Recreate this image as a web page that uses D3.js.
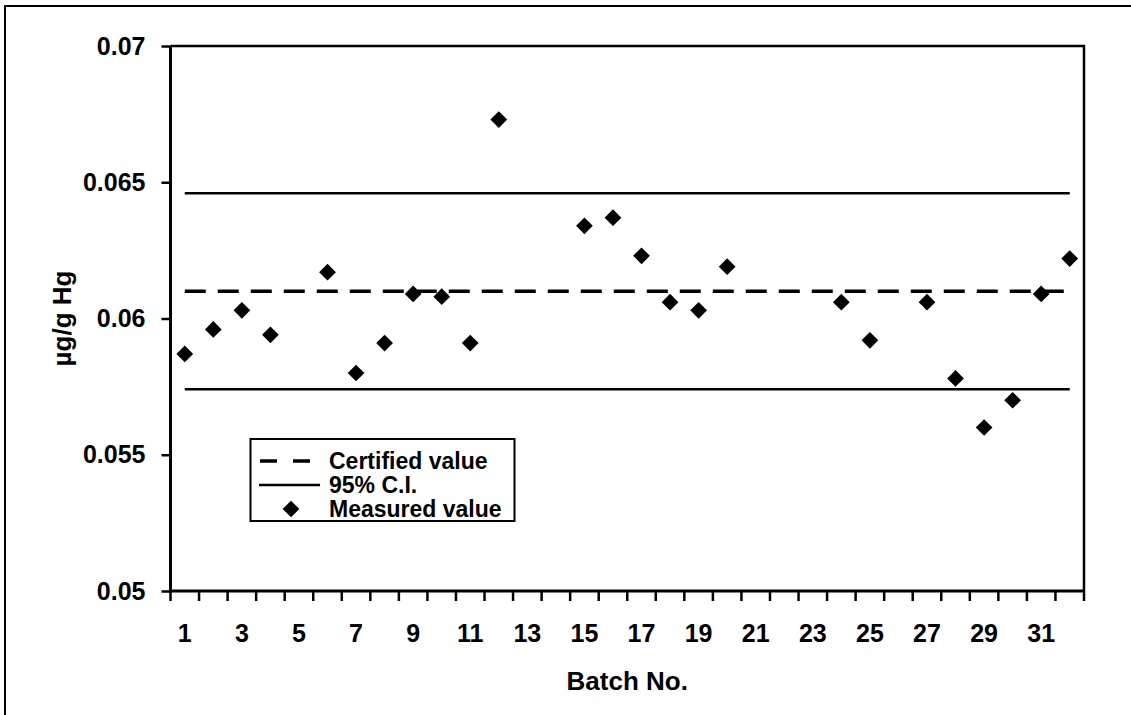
<!DOCTYPE html>
<html>
<head>
<meta charset="utf-8">
<script src="https://cdn.jsdelivr.net/npm/d3@7"></script>
<style>
  body { margin: 0; background: #fff; }
  svg text { font-family: "Liberation Sans", Arial, sans-serif; font-weight: bold; fill: #000; }
</style>
</head>
<body>
<div id="chart"></div>
<script>
// batches with a measurement (5, 13, 14, 21-23, 26 missing)
let batches = [1, 2, 3, 4, 6, 7, 8, 9, 10, 11, 12, 15, 16, 17, 18, 19, 20, 24, 25, 27, 28, 29, 30, 31, 32]
let measured = [0.0587, 0.0596, 0.0603, 0.0594, 0.0617, 0.0580, 0.0591, 0.0609, 0.0608, 0.0591, 0.0673,
  0.0634, 0.0637, 0.0623, 0.0606, 0.0603, 0.0619, 0.0606, 0.0592, 0.0606, 0.0578, 0.0560, 0.0570, 0.0609, 0.0622]
let allBatches = d3.range(1, 33)
let certified = 0.061
let ciLimits = [0.0574, 0.0646]
let yTicks = [0.05, 0.055, 0.06, 0.065, 0.07]
let xLabels = [1, 3, 5, 7, 9, 11, 13, 15, 17, 19, 21, 23, 25, 27, 29, 31]

let width = 1131
let height = 715
let margin = { top: 46, right: 47, bottom: 124, left: 170.5 }

let svg = d3.select('#chart')
  .append('svg')
  .attr('width', width)
  .attr('height', height)

// outer chart border
svg.append('rect')
  .attr('x', 5).attr('y', 6)
  .attr('width', 1200).attr('height', 800)
  .attr('fill', 'none')
  .attr('stroke', '#000')
  .attr('stroke-width', 2)

let x = d3.scaleBand()
  .domain(allBatches)
  .range([margin.left, width - margin.right])
  .padding(0)
let bw = x.bandwidth()
let cx = d => x(d) + bw / 2

let y = d3.scaleLinear()
  .domain([0.05, 0.07])
  .range([height - margin.bottom, margin.top])

// plot area border (top & right)
svg.append('path')
  .attr('d', `M${margin.left},${y(0.07)}H${width - margin.right}V${y(0.05)}`)
  .attr('fill', 'none')
  .attr('stroke', '#000')
  .attr('stroke-width', 2.5)

// reference lines
let line = d3.line().x(d => cx(d[0])).y(d => y(d[1]))
let first = allBatches[0], last = allBatches[allBatches.length - 1]

ciLimits.forEach(v => {
  svg.append('path')
    .datum([[first, v], [last, v]])
    .attr('d', line)
    .attr('stroke', '#000')
    .attr('stroke-width', 2.5)
})

svg.append('path')
  .datum([[first, certified], [last, certified]])
  .attr('d', line)
  .attr('stroke', '#000')
  .attr('stroke-width', 3.5)
  .attr('stroke-dasharray', '21,12')

// axes
let yAxis = svg.append('g')
  .attr('transform', `translate(${margin.left},0)`)
  .call(d3.axisLeft(y).tickValues(yTicks).tickSize(9).tickPadding(16).tickFormat(d3.format('~g')))
let xAxis = svg.append('g')
  .attr('transform', `translate(0,${y(0.05)})`)
  .call(d3.axisBottom(x).tickSize(0).tickPadding(33).tickFormat(d => xLabels.includes(d) ? d : ''))

;[yAxis, xAxis].forEach(g => {
  g.select('.domain').attr('stroke-width', 3)
  g.selectAll('.tick line').attr('stroke-width', 2.5)
  g.selectAll('text').style('font-size', '25px')
})
yAxis.select('.domain').attr('d', `M0,${y(0.07)}V${y(0.05)}`)
xAxis.select('.domain').attr('d', `M${margin.left},0H${width - margin.right}`)

// category tick marks at band edges
xAxis.selectAll('.edge')
  .data(allBatches.concat([null]))
  .enter()
  .append('line')
  .attr('x1', (d, i) => margin.left + i * bw)
  .attr('x2', (d, i) => margin.left + i * bw)
  .attr('y1', 0).attr('y2', 10)
  .attr('stroke', '#000')
  .attr('stroke-width', 2.5)

// measured points
let diamond = d3.symbol().type(d3.symbolSquare).size(140)
svg.append('g')
  .selectAll('path')
  .data(batches.map((b, i) => [b, measured[i]]))
  .enter()
  .append('path')
  .attr('d', diamond)
  .attr('transform', d => `translate(${cx(d[0])},${y(d[1])}) rotate(45)`)
  .attr('fill', '#000')

// axis titles
svg.append('text')
  .attr('x', (margin.left + width - margin.right) / 2)
  .attr('y', 690)
  .attr('text-anchor', 'middle')
  .style('font-size', '26px')
  .text('Batch No.')

svg.append('text')
  .attr('transform', `translate(71,${(y(0.05) + y(0.07)) / 2}) rotate(-90)`)
  .attr('text-anchor', 'middle')
  .style('font-size', '26px')
  .text('µg/g Hg')

// legend
let lg = svg.append('g')
lg.append('rect')
  .attr('x', 250.5).attr('y', 439)
  .attr('width', 264).attr('height', 82)
  .attr('fill', '#fff')
  .attr('stroke', '#000')
  .attr('stroke-width', 2)

let rows = ['Certified value', '95% C.I.', 'Measured value']
rows.forEach((label, i) => {
  let ry = 461 + i * 24
  if (i === 0) {
    lg.append('line').attr('x1', 260).attr('x2', 313).attr('y1', ry).attr('y2', ry)
      .attr('stroke', '#000').attr('stroke-width', 3.5).attr('stroke-dasharray', '17,16')
  } else if (i === 1) {
    lg.append('line').attr('x1', 259).attr('x2', 320).attr('y1', ry).attr('y2', ry)
      .attr('stroke', '#000').attr('stroke-width', 2.5)
  } else {
    lg.append('path').attr('d', diamond)
      .attr('transform', `translate(291,${ry}) rotate(45)`)
      .attr('fill', '#000')
  }
  lg.append('text')
    .attr('x', 329).attr('y', ry + 8)
    .style('font-size', '23px')
    .text(label)
})
</script>
</body>
</html>
